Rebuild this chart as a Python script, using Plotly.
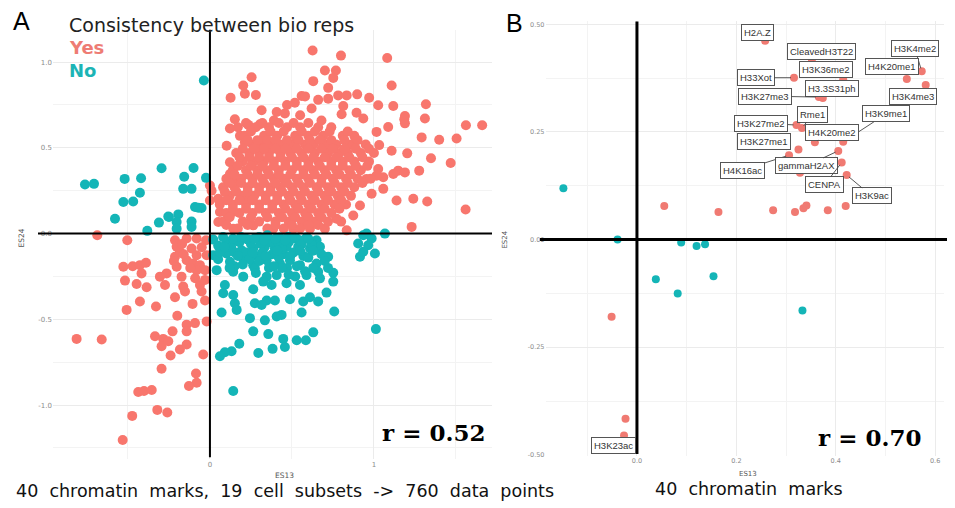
import plotly.graph_objects as go

# ---------------- Panel A data (ES13, ES24) ----------------
# consistent between bio reps = Yes (red)
yes_outer = [
    (0.626, 1.068), (0.799, 1.038), (1.081, 1.024), (0.701, 0.951), (0.768, 0.951), (0.752, 0.908),
    (0.63, 0.889), (0.254, 0.912), (0.203, 0.864), (0.721, 0.85), (1.108, 0.864), (0.213, 0.816),
    (0.28, 0.808), (0.126, 0.792), (0.559, 0.802), (0.721, 0.787), (0.782, 0.806), (0.834, 0.806),
    (0.898, 0.812), (0.971, 0.792), (0.518, 0.763), (1.026, 0.748), (1.118, 0.744), (1.317, 0.754),
    (0.315, 0.719), (0.407, 0.709), (0.457, 0.701), (0.813, 0.744), (0.803, 0.696), (0.894, 0.705),
    (0.152, 0.667), (0.935, 0.671), (1.185, 0.667), (1.311, 0.671), (1.561, 0.632), (1.66, 0.632),
    (1.189, 0.643), (0.122, 0.613), (0.234, 0.634), (0.305, 0.638), (0.183, 0.57), (1.087, 0.622),
    (1.016, 0.593), (1.291, 0.561), (1.398, 0.547), (1.504, 0.555), (1.032, 0.516), (0.102, 0.512),
    (0.213, 0.532), (1.108, 0.483), (1.203, 0.468), (1.348, 0.439), (1.468, 0.412), (0.122, 0.416),
    (1.026, 0.377), (1.148, 0.367), (1.189, 0.357), (1.276, 0.367), (1.057, 0.329), (0.955, 0.319),
    (0.122, 0.348), (0.152, 0.309), (1.057, 0.261), (1.138, 0.193), (1.24, 0.203), (1.325, 0.187),
    (1.559, 0.141), (1.23, 0.039), (0.986, 0.232), (0.915, 0.164), (0.874, 0.106), (0.772, 0.087),
    (0.701, 0.029), (0.834, 0.019), (0.051, 0.203), (0.061, 0.126), (0.051, 0.068), (0.142, 0.126),
    (0.224, 0.203), (0.142, 0.029), (0.264, 0.048), (0.386, 0.029), (0.508, 0.029), (0.61, 0.029),
    (1.189, 0.686), (1.118, 0.348), (1.016, 0.338), (0.0, 0.28), (0.01, 0.25), (0.0, 0.193),
    (0.39, 0.66), (0.55, 0.69), (0.62, 0.73), (0.68, 0.66), (0.47, 0.75), (0.58, 0.8), (0.66, 0.78),
]

# dense core of the Yes cloud, row by row (ES24 level -> ES13 values)
yes_core_rows = {
    0.62: [0.17, 0.28, 0.36, 0.47, 0.55, 0.66, 0.74],
    0.57: [0.21, 0.33, 0.41, 0.52, 0.6, 0.69, 0.81, 0.88],
    0.52: [0.26, 0.31, 0.37, 0.44, 0.5, 0.58, 0.63, 0.71, 0.77, 0.86, 0.95],
    0.47: [0.16, 0.24, 0.3, 0.36, 0.43, 0.49, 0.56, 0.64, 0.72, 0.79, 0.84, 0.92, 1.0],
    0.42: [0.2, 0.27, 0.33, 0.39, 0.46, 0.53, 0.6, 0.66, 0.74, 0.81, 0.88, 0.97],
    0.37: [0.14, 0.22, 0.29, 0.35, 0.42, 0.5, 0.57, 0.63, 0.7, 0.77, 0.85, 0.92],
    0.32: [0.1, 0.19, 0.26, 0.32, 0.39, 0.45, 0.53, 0.6, 0.68, 0.75, 0.83, 0.9, 0.98],
    0.27: [0.08, 0.15, 0.23, 0.3, 0.37, 0.43, 0.5, 0.57, 0.65, 0.72, 0.8, 0.88],
    0.22: [0.12, 0.19, 0.27, 0.34, 0.41, 0.48, 0.55, 0.62, 0.7, 0.78, 0.86],
    0.17: [0.06, 0.14, 0.22, 0.3, 0.38, 0.45, 0.52, 0.6, 0.68, 0.76, 0.83],
    0.12: [0.1, 0.18, 0.26, 0.34, 0.42, 0.5, 0.58, 0.66, 0.74],
    0.07: [0.08, 0.2, 0.3, 0.4, 0.48, 0.56, 0.64, 0.72, 0.8],
    0.03: [0.17, 0.35, 0.45, 0.55],
}
yes_core_rows_b = {
    0.645: [0.22, 0.32, 0.42, 0.51, 0.6],
    0.595: [0.25, 0.37, 0.45, 0.56, 0.64, 0.73, 0.84],
    0.545: [0.23, 0.29, 0.35, 0.4, 0.47, 0.54, 0.61, 0.67, 0.74, 0.82, 0.9],
    0.495: [0.2, 0.27, 0.33, 0.4, 0.46, 0.53, 0.6, 0.68, 0.75, 0.82, 0.89, 0.97],
    0.445: [0.18, 0.24, 0.3, 0.36, 0.43, 0.5, 0.57, 0.63, 0.7, 0.77, 0.85, 0.93],
    0.395: [0.17, 0.25, 0.32, 0.39, 0.46, 0.53, 0.6, 0.67, 0.74, 0.81, 0.89, 0.96],
    0.345: [0.15, 0.23, 0.29, 0.36, 0.42, 0.49, 0.57, 0.64, 0.71, 0.79, 0.86],
    0.295: [0.12, 0.19, 0.26, 0.33, 0.4, 0.47, 0.54, 0.61, 0.68, 0.76, 0.84, 0.93],
    0.245: [0.09, 0.16, 0.23, 0.3, 0.37, 0.44, 0.51, 0.58, 0.66, 0.74, 0.82],
    0.195: [0.1, 0.18, 0.26, 0.34, 0.41, 0.49, 0.56, 0.64, 0.72, 0.8],
    0.145: [0.14, 0.22, 0.3, 0.38, 0.46, 0.54, 0.62, 0.7, 0.79],
    0.095: [0.12, 0.25, 0.35, 0.44, 0.52, 0.6, 0.68],
    0.05: [0.1, 0.23, 0.4, 0.5, 0.6, 0.66],
}

yes_lower_left = [
    (-0.687, -0.01), (-0.504, -0.039), (-0.528, -0.193), (-0.471, -0.19), (-0.427, -0.184), (-0.39, -0.17),
    (-0.417, -0.232), (-0.518, -0.274), (-0.447, -0.294), (-0.386, -0.313), (-0.427, -0.396), (-0.508, -0.445),
    (-0.329, -0.425), (-0.213, -0.371), (-0.106, -0.41), (-0.03, -0.39), (-0.199, -0.479), (-0.02, -0.512),
    (-0.142, -0.531), (-0.091, -0.522), (-0.228, -0.57), (-0.142, -0.57), (-0.335, -0.599), (-0.285, -0.614),
    (-0.295, -0.657), (-0.254, -0.628), (-0.183, -0.676), (-0.142, -0.647), (-0.24, -0.711), (-0.041, -0.705),
    (-0.813, -0.614), (-0.66, -0.618), (-0.295, -0.788), (-0.085, -0.816), (-0.081, -0.87), (-0.128, -0.889),
    (-0.437, -0.924), (-0.402, -0.918), (-0.355, -0.912), (-0.321, -1.028), (-0.26, -1.043), (-0.474, -1.063),
    (-0.532, -1.204), (-0.213, -0.039), (-0.142, -0.029), (-0.081, -0.029), (-0.024, -0.039), (-0.213, -0.135),
    (-0.183, -0.106), (-0.142, -0.155), (-0.102, -0.174), (-0.061, -0.184), (-0.03, -0.213), (-0.081, -0.213),
    (-0.203, -0.193), (-0.264, -0.232), (-0.305, -0.251), (-0.173, -0.251), (-0.274, -0.3), (-0.163, -0.309),
    (-0.061, -0.3), (-0.051, -0.338), (-0.152, -0.338), (-0.203, -0.077), (-0.112, -0.087), (-0.081, -0.126),
    (-0.02, -0.126), (-0.17, -0.06), (-0.05, -0.08), (-0.12, -0.2), (-0.22, -0.16), (-0.03, -0.27),
    (-0.09, -0.26), (-0.16, -0.12),
]

# consistent between bio reps = No (teal)
no_points = [
    (-0.037, 0.893), (-0.762, 0.286), (-0.707, 0.29), (-0.52, 0.319), (-0.42, 0.323), (-0.295, 0.381),
    (-0.1, 0.383), (-0.157, 0.332), (-0.024, 0.325), (-0.163, 0.261), (-0.112, 0.261), (-0.427, 0.238),
    (-0.528, 0.184), (-0.468, 0.187), (-0.091, 0.155), (-0.051, 0.149), (-0.579, 0.087), (-0.254, 0.1),
    (-0.193, 0.112), (-0.311, 0.064), (-0.203, 0.068), (-0.112, 0.071), (-0.382, 0.016), (-0.203, 0.029),
    (-0.112, 0.039), (-0.071, 0.151), (-0.25, 0.097), (0.955, 0.0), (1.067, 0.0),
    (0.02, -0.035), (0.10, -0.048), (0.163, -0.042), (0.234, -0.035), (0.295, -0.029), (0.356, -0.029),
    (0.427, -0.023), (0.478, -0.019), (0.529, -0.029), (0.589, -0.023), (0.65, -0.039), (0.935, -0.01),
    (0.986, -0.029), (0.904, -0.058), (0.965, -0.068), (0.02, -0.126), (0.10, -0.116), (0.193, -0.097),
    (0.264, -0.087), (0.335, -0.077), (0.396, -0.087), (0.467, -0.077), (0.538, -0.077), (0.61, -0.087),
    (0.671, -0.077), (0.721, -0.135), (0.915, -0.135), (1.006, -0.116), (0.935, -0.106), (0.122, -0.164),
    (0.203, -0.145), (0.264, -0.184), (0.346, -0.155), (0.427, -0.174), (0.488, -0.155), (0.549, -0.184),
    (0.65, -0.174), (0.041, -0.213), (0.142, -0.222), (0.203, -0.251), (0.274, -0.203), (0.346, -0.251),
    (0.407, -0.242), (0.467, -0.29), (0.549, -0.3), (0.589, -0.242), (0.66, -0.222), (0.671, -0.261),
    (0.752, -0.228), (0.752, -0.28), (0.325, -0.28), (0.376, -0.3), (0.091, -0.3), (0.081, -0.348),
    (0.142, -0.358), (0.264, -0.325), (0.346, -0.39), (0.396, -0.39), (0.488, -0.383), (0.569, -0.396),
    (0.61, -0.371), (0.66, -0.396), (0.711, -0.344), (0.274, -0.406), (0.315, -0.416), (0.152, -0.406),
    (0.163, -0.445), (0.071, -0.46), (0.559, -0.46), (0.758, -0.454), (0.244, -0.493), (0.335, -0.506),
    (0.407, -0.483), (0.437, -0.474), (0.264, -0.57), (0.356, -0.586), (0.63, -0.576), (1.012, -0.557),
    (0.447, -0.614), (0.529, -0.622), (0.585, -0.622), (0.179, -0.642), (0.457, -0.661), (0.382, -0.672),
    (0.295, -0.696), (0.132, -0.686), (0.091, -0.692), (0.061, -0.715), (0.142, -0.918),
    (0.05, -0.07), (0.13, -0.08), (0.18, -0.05), (0.22, -0.11), (0.25, -0.06), (0.28, -0.13),
    (0.31, -0.06), (0.32, -0.11), (0.37, -0.05), (0.38, -0.12), (0.42, -0.06), (0.45, -0.12),
    (0.48, -0.05), (0.51, -0.11), (0.55, -0.04), (0.57, -0.13), (0.62, -0.06), (0.44, -0.09),
    (0.40, -0.03), (0.30, -0.02), (0.22, -0.03), (0.05, -0.15), (0.15, -0.19), (0.24, -0.15),
    (0.47, -0.2), (0.58, -0.22), (0.52, -0.25), (0.36, -0.2), (0.68, -0.12), (0.72, -0.2),
    (0.14, -0.03), (0.27, -0.03), (0.33, -0.04), (0.5, -0.03), (0.56, -0.06), (0.6, -0.14),
    (0.06, -0.11), (0.15, -0.11), (0.3, -0.16), (0.42, -0.14), (0.53, -0.19), (0.44, -0.2),
    (0.08, -0.02), (0.19, -0.02), (0.35, -0.01), (0.46, -0.04), (0.6, -0.03), (0.09, -0.08),
    (0.17, -0.13), (0.26, -0.11), (0.34, -0.13), (0.41, -0.1), (0.49, -0.13), (0.55, -0.1),
    (0.63, -0.1), (0.12, -0.2), (0.2, -0.18), (0.28, -0.23), (0.39, -0.19), (0.48, -0.24),
    (0.63, -0.2), (0.7, -0.16),
]

# ---------------- Panel B data (ES13, ES24), 40 chromatin marks ----------------
b_labels = ["H2A.Z", "CleavedH3T22", "H3K36me2", "H33Xot", "H3.3S31ph", "H3K27me3", "H3K4me2",
            "H4K20me1", "H3K4me3", "Rme1", "H3K27me2", "H3K9me1", "H4K20me2", "H3K27me1",
            "H4K16ac", "gammaH2AX", "CENPA", "H3K9ac", "H3K23ac"]
b_lab_es13 = [0.258, 0.352, 0.415, 0.316, 0.374, 0.366, 0.573, 0.543, 0.581, 0.332, 0.321, 0.415,
              0.358, 0.325, 0.306, 0.405, 0.412, 0.422, -0.026]
b_lab_es24 = [0.462, 0.414, 0.372, 0.376, 0.329, 0.331, 0.391, 0.373, 0.359, 0.259, 0.266, 0.227,
              0.226, 0.209, 0.196, 0.206, 0.179, 0.150, -0.455]
b_yes_es13 = [0.328, 0.055, 0.164, 0.274, 0.318, 0.335, 0.341, 0.384, 0.42, -0.051, -0.023]
b_yes_es24 = [0.155, 0.078, 0.064, 0.068, 0.064, 0.073, 0.079, 0.068, 0.078, -0.179, -0.416]
b_no_es13 = [-0.148, -0.039, 0.089, 0.12, 0.137, 0.038, 0.154, 0.082, 0.333]
b_no_es24 = [0.119, 0.0, -0.007, -0.015, -0.011, -0.092, -0.085, -0.125, -0.165]

# label box offsets in pixels (dx, dy) and whether a leader segment is drawn
b_label_offsets = [(-8, -8, 0), (10, -10, 0), (-17, -10, 0), (-38, 0, 1), (9, -9, 0), (-54, -1, 1),
                   (-7, -23, 1), (-15, -12, 0), (-13, 11, 0), (11, -14, 1), (-35, -2, 1), (43, -28, 1),
                   (17, -10, 1), (-34, -8, 0), (-47, 15, 1), (-32, 15, 1), (-17, 22, 1), (25, 21, 1),
                   (-11, 10, 0)]

# ---------------- build ----------------
W, H = 955, 508
def px(x):
    return x / W
def py(y):
    return 1 - y / H

RED = "#F8766D"
TEAL = "#14B5B7"

core_x = [x for rows in (yes_core_rows, yes_core_rows_b) for yv, xs in rows.items() for x in xs]
core_y = [yv for rows in (yes_core_rows, yes_core_rows_b) for yv, xs in rows.items() for x in xs]
yes_x = [p[0] for p in yes_outer] + core_x + [p[0] for p in yes_lower_left]
yes_y = [p[1] for p in yes_outer] + core_y + [p[1] for p in yes_lower_left]
no_x = [p[0] for p in no_points]
no_y = [p[1] for p in no_points]

fig = go.Figure()
fig.add_trace(go.Scatter(x=yes_x, y=yes_y, mode="markers", marker=dict(color=RED, size=10),
                         xaxis="x", yaxis="y", showlegend=False, hoverinfo="skip"))
fig.add_trace(go.Scatter(x=no_x, y=no_y, mode="markers", marker=dict(color=TEAL, size=10),
                         xaxis="x", yaxis="y", showlegend=False, hoverinfo="skip"))

fig.add_trace(go.Scatter(x=b_no_es13, y=b_no_es24, mode="markers", marker=dict(color=TEAL, size=8),
                         xaxis="x2", yaxis="y2", showlegend=False, hoverinfo="skip"))
fig.add_trace(go.Scatter(x=b_yes_es13 + b_lab_es13, y=b_yes_es24 + b_lab_es24, mode="markers",
                         marker=dict(color="#F07A72", size=8),
                         xaxis="x2", yaxis="y2", showlegend=False, hoverinfo="skip"))

grid = "#EBEBEB"
minor_grid = "#F3F3F3"
tickfont_a = dict(family="DejaVu Sans", size=7, color="#8C8C8C")
tickfont_b = dict(family="DejaVu Sans", size=6.5, color="#8C8C8C")

fig.update_layout(
    width=W, height=H, margin=dict(l=0, r=0, t=0, b=0),
    paper_bgcolor="white", plot_bgcolor="white",
    xaxis=dict(domain=[px(53), px(492)], range=[-0.957, 1.72], tickvals=[0, 1], ticktext=["0", "1"],
               showgrid=True, gridcolor=grid, gridwidth=1, zeroline=False, showline=False,
               minor=dict(tickvals=[-0.5, 0.5, 1.5], showgrid=True, gridcolor=minor_grid, gridwidth=1),
               tickfont=tickfont_a, ticks="", anchor="y"),
    yaxis=dict(domain=[py(462), py(30.4)], range=[-1.316, 1.186], tickvals=[-1, -0.5, 0, 0.5, 1],
               ticktext=["-1.0", "-0.5", "0.0", "0.5", "1.0"],
               showgrid=True, gridcolor=grid, gridwidth=1, zeroline=False, showline=False,
               minor=dict(tickvals=[-1.25, -0.75, -0.25, 0.25, 0.75], showgrid=True, gridcolor=minor_grid, gridwidth=1),
               tickfont=tickfont_a, ticks="", anchor="x"),
    xaxis2=dict(domain=[px(545.5), px(943.6)], range=[-0.184, 0.617], tickvals=[0, 0.2, 0.4, 0.6],
                ticktext=["0.0", "0.2", "0.4", "0.6"],
                showgrid=True, gridcolor=grid, gridwidth=1, zeroline=False, showline=False,
                minor=dict(tickvals=[-0.1, 0.1, 0.3, 0.5], showgrid=True, gridcolor=minor_grid, gridwidth=1),
                tickfont=tickfont_b, ticks="", anchor="y2"),
    yaxis2=dict(domain=[py(458.4), py(21)], range=[-0.502, 0.508], tickvals=[-0.5, -0.25, 0, 0.25, 0.5],
                ticktext=["-0.50", "-0.25", "0.00", "0.25", "0.50"],
                showgrid=True, gridcolor=grid, gridwidth=1, zeroline=False, showline=False,
                minor=dict(tickvals=[-0.375, -0.125, 0.125, 0.375], showgrid=True, gridcolor=minor_grid, gridwidth=1),
                tickfont=tickfont_b, ticks="", anchor="x2"),
)

# black reference lines
shapes = [
    dict(type="line", xref="paper", yref="y", x0=px(38), x1=px(492), y0=0, y1=0, line=dict(color="black", width=2)),
    dict(type="line", xref="x", yref="paper", x0=0, x1=0, y0=py(460), y1=py(30), line=dict(color="black", width=2)),
    dict(type="line", xref="paper", yref="y2", x0=px(540), x1=px(947), y0=0, y1=0, line=dict(color="black", width=3)),
    dict(type="line", xref="x2", yref="paper", x0=0, x1=0, y0=py(456.7), y1=py(21.7), line=dict(color="black", width=3)),
]
fig.update_layout(shapes=shapes)

ann = []
def text(x, y, s, size, color="black", family="DejaVu Sans", xanchor="left", angle=0, bold=False):
    if bold:
        s = "<b>" + s + "</b>"
    ann.append(dict(x=px(x), y=py(y), xref="paper", yref="paper", text=s, showarrow=False,
                    xanchor=xanchor, yanchor="middle", textangle=angle,
                    font=dict(family=family, size=size, color=color)))

NB2 = "\u00a0 "
text(21, 21, "A", 25, family="Liberation Sans", xanchor="center")
text(514, 23, "B", 25, family="Liberation Sans", xanchor="center")
text(67, 25, "Consistency between bio reps", 19, color="#222222")
text(67, 48, "Yes", 18, color="#EE7C74", bold=True)
text(67, 71, "No", 18, color="#1CB4B5", bold=True)
text(380, 435, "r = 0.52", 23, family="DejaVu Serif", bold=True)
text(816, 440, "r = 0.70", 23, family="DejaVu Serif", bold=True)
text(14, 494, NB2.join(["40", "chromatin", "marks,", "19", "cell", "subsets", "-&gt;", "760", "data", "points"]),
     17.5, color="#111111")
text(653, 492, NB2.join(["40", "chromatin", "marks"]), 17.5, color="#111111")
# axis titles
text(284, 478, "ES13", 7.5, color="#555555", xanchor="center")
text(748, 477, "ES13", 7, color="#555555", xanchor="center")
text(22, 240, "ES24", 7.5, color="#555555", xanchor="center", angle=-90)
text(505, 241, "ES24", 7, color="#555555", xanchor="center", angle=-90)

for lab, x, y, (dx, dy, seg) in zip(b_labels, b_lab_es13, b_lab_es24, b_label_offsets):
    ann.append(dict(x=x, y=y, xref="x2", yref="y2", text=lab, showarrow=True, ax=dx, ay=dy,
                    arrowhead=0, arrowwidth=0.9, standoff=3,
                    arrowcolor="#444444" if seg else "rgba(0,0,0,0)",
                    bgcolor="white", bordercolor="#555555", borderwidth=1, borderpad=2,
                    font=dict(family="Liberation Sans", size=9.5, color="#333333")))

fig.update_layout(annotations=ann)
fig.write_html("out.html")
